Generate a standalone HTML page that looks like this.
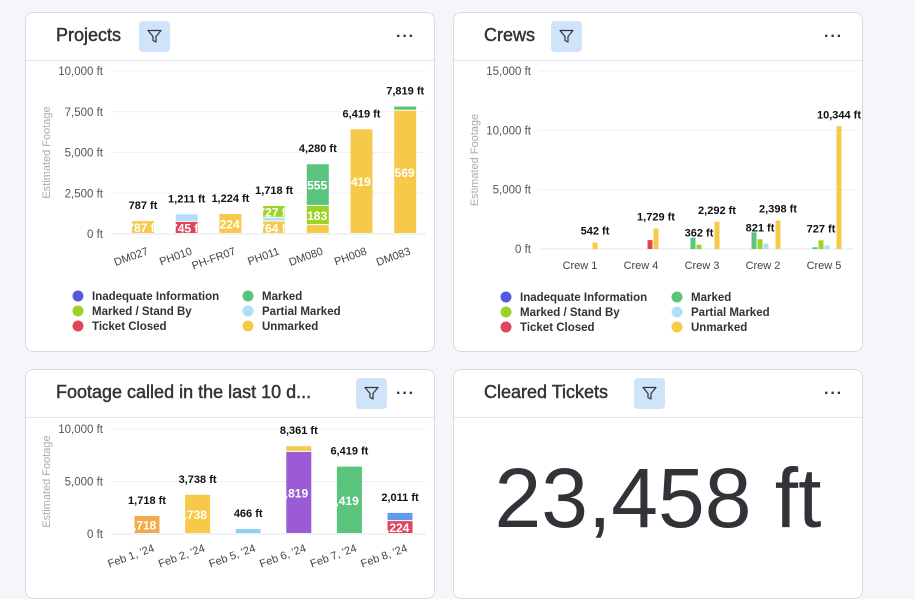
<!DOCTYPE html>
<html><head><meta charset="utf-8">
<style>
*{box-sizing:border-box;margin:0;padding:0}
body{width:915px;height:585px;background:#f5f6fa;font-family:"Liberation Sans",sans-serif;position:relative;overflow:hidden}
.card{position:absolute;background:#fff;border:1px solid #d9dbe3;border-radius:8px;overflow:hidden}
.hdr{position:absolute;left:0;right:0;top:0;height:48px;border-bottom:1px solid #e1e3ea}
.title{position:absolute;left:30px;top:12px;font-size:18px;color:#323338;font-weight:normal;-webkit-text-stroke:0.45px #323338;white-space:nowrap}
.filt{position:absolute;top:8px;width:31px;height:31px;background:#cfe3fb;border-radius:4px}
.filt svg{position:absolute;left:8px;top:8px}
.dots{position:absolute;top:15px;font-size:16px;color:#323338;font-weight:bold;letter-spacing:1px}
svg.ch{position:absolute;left:0;top:0}
.big{position:absolute;left:0;right:0;top:80px;text-align:center;font-size:84px;color:#323338}
</style></head><body>
<div class="card" style="left:25px;top:12px;width:410px;height:340px">
 <div class="hdr"><div class="title">Projects</div>
 <div class="filt" style="left:113px"><svg width="15" height="15" viewBox="0 0 15 15"><path d="M1 1.5h13l-5 6v5.5l-3-1.5v-4z" fill="none" stroke="#323338" stroke-width="1.2" stroke-linejoin="round"/></svg></div>
 <div class="dots" style="left:370px">···</div></div>
 <svg class="ch" id="c1" width="410" height="340"></svg>
</div>
<div class="card" style="left:453px;top:12px;width:410px;height:340px">
 <div class="hdr"><div class="title">Crews</div>
 <div class="filt" style="left:97px"><svg width="15" height="15" viewBox="0 0 15 15"><path d="M1 1.5h13l-5 6v5.5l-3-1.5v-4z" fill="none" stroke="#323338" stroke-width="1.2" stroke-linejoin="round"/></svg></div>
 <div class="dots" style="left:370px">···</div></div>
 <svg class="ch" id="c2" width="410" height="340"></svg>
</div>
<div class="card" style="left:25px;top:369px;width:410px;height:230px">
 <div class="hdr"><div class="title">Footage called in the last 10 d...</div>
 <div class="filt" style="left:330px"><svg width="15" height="15" viewBox="0 0 15 15"><path d="M1 1.5h13l-5 6v5.5l-3-1.5v-4z" fill="none" stroke="#323338" stroke-width="1.2" stroke-linejoin="round"/></svg></div>
 <div class="dots" style="left:370px">···</div></div>
 <svg class="ch" id="c3" width="410" height="230"></svg>
</div>
<div class="card" style="left:453px;top:369px;width:410px;height:230px">
 <div class="hdr"><div class="title">Cleared Tickets</div>
 <div class="filt" style="left:180px"><svg width="15" height="15" viewBox="0 0 15 15"><path d="M1 1.5h13l-5 6v5.5l-3-1.5v-4z" fill="none" stroke="#323338" stroke-width="1.2" stroke-linejoin="round"/></svg></div>
 <div class="dots" style="left:370px">···</div></div>
 <div class="big">23,458 ft</div>
</div>
<script>
const seriesNames=["Inadequate Information","Marked","Marked / Stand By","Partial Marked","Ticket Closed","Unmarked"];
const projCats=["DM027","PH010","PH-FR07","PH011","DM080","PH008","DM083"];
const projUnmarked=[787,0,1224,764,542,6419,7569];
const projTicketClosed=[0,745,0,0,0,0,0];
const projPartial=[0,466,0,227,0,0,0];
const projStandBy=[0,0,0,727,1183,0,0];
const projMarked=[0,0,0,0,2555,0,250];
const projTicks=[0,2500,5000,7500,10000];
const crewCats=["Crew 1","Crew 4","Crew 3","Crew 2","Crew 5"];
const crewInadequate=[0,0,0,0,0];
const crewMarked=[0,0,950,1400,150];
const crewStandBy=[0,0,362,821,727];
const crewPartial=[0,0,0,450,300];
const crewTicketClosed=[0,750,0,0,0];
const crewUnmarked=[542,1729,2292,2398,10344];
const crewTicks=[0,5000,10000,15000];
const dayCats=["Feb 1, '24","Feb 2, '24","Feb 5, '24","Feb 6, '24","Feb 7, '24","Feb 8, '24"];
const daySeriesA=[1718,3738,466,7819,6419,1224];
const daySeriesB=[0,0,0,542,0,787];
const dayColorsA=["#f2aa4c","#f7c948","#8ccff5","#9b5bd6","#5ac47d","#e2445c"];
const dayColorsB=["#f7c948","#f7c948","#f7c948","#f7c948","#f7c948","#5f9cf0"];
const dayTicks=[0,5000,10000];
const COL=["#5559df","#5ac47d","#9cd326","#aee0f7","#e2445c","#f7c948"];
const NS="http://www.w3.org/2000/svg";
function mk(p,t,a){const e=document.createElementNS(NS,t);for(const k in a)e.setAttribute(k,a[k]);p.appendChild(e);return e;}
function fmt(v){return v.toLocaleString("en-US")+" ft";}
function axes(svg,ticks,max,y0,y1,xl,xr,ylab){
 const ys=v=>y0-(v/max)*(y0-y1);
 ticks.forEach(t=>{const l=mk(svg,"line",{x1:xl,x2:xr,y1:ys(t),y2:ys(t),stroke:t?"#f0f1f4":"#e3e5ea"});
  
  
  const tx=mk(svg,"text",{x:xl-8,y:ys(t)+4,"text-anchor":"end","font-size":"11.5",fill:"#555"});tx.textContent=fmt(t);
  
  });
 const yl=mk(svg,"text",{x:0,y:0,transform:`translate(24,${(y0+y1)/2}) rotate(-90)`,"text-anchor":"middle","font-size":"11",fill:"#aaa"});yl.textContent=ylab;
 
 
 return ys;}
function xlabel(svg,x,y,t,rot){const e=mk(svg,"text",{x:0,y:0,transform:`translate(${x},${y}) rotate(${rot})`,"text-anchor":rot?"end":"middle","font-size":"11",fill:"#444"});e.textContent=t;
 
 }
function legend(svg,x1,x2,y){seriesNames.forEach((n,i)=>{const x=i%2?x2:x1,yy=y+Math.floor(i/2)*15;
 const g=mk(svg,"g",{});
 mk(g,"circle",{cx:x,cy:yy,r:5.5,fill:COL[i]});const t=mk(g,"text",{x:x+14,y:yy+4,"font-size":"11.5","font-weight":"bold",fill:"#323338"});t.textContent=n;});}
let cid=0;
function stackBar(svg,cx,w,ys,vals,cols,showInner){let acc=0;vals.forEach((v,i)=>{if(!v)return;const yt=ys(acc+v),yb=ys(acc);
 const r=mk(svg,"rect",{x:cx-w/2,y:yt,width:w,height:Math.max(yb-yt-1,1),fill:cols[i]});
 
 
 if(showInner&&yb-yt>9){const id="cl"+(cid++);const cp=mk(svg,"clipPath",{id:id});mk(cp,"rect",{x:cx-w/2,y:yt,width:w,height:yb-yt});
  const t=mk(svg,"text",{x:cx,y:(yt+yb)/2+4.5,"text-anchor":"middle","font-size":"12","font-weight":"bold",fill:"#fff","clip-path":`url(#${id})`});t.textContent=fmt(v);
  
  }
 acc+=v;});return acc;}
function total(svg,x,y,v){const t=mk(svg,"text",{x:x,y:y,"text-anchor":"middle","font-size":"11","font-weight":"bold",fill:"#111"});t.textContent=fmt(v);
 
 }
(function(){const s=document.getElementById("c1");const ys=axes(s,projTicks,10000,221,58,85,400,"Estimated Footage");
 projCats.forEach((c,i)=>{const cx=117+i*43.7;
  const tot=stackBar(s,cx,22,ys,[projUnmarked[i],projTicketClosed[i],projPartial[i],projStandBy[i],projMarked[i]],[COL[5],COL[4],COL[3],COL[2],COL[1]],true);
  total(s,cx,ys(tot)-12,tot);xlabel(s,cx+6,241,c,-20);});
 legend(s,52,222,283);})();
(function(){const s=document.getElementById("c2");const ys=axes(s,crewTicks,15000,236,58,85,400,"Estimated Footage");
 const sers=[crewInadequate,crewMarked,crewStandBy,crewPartial,crewTicketClosed,crewUnmarked];
 const show=[[5],[5],[2,5],[2,5],[2,5]];
 crewCats.forEach((c,i)=>{const cx=126+i*61;
  sers.forEach((sr,j)=>{const v=sr[i];if(!v)return;const x=cx-15+6*j;const r=mk(s,"rect",{x:x-2.5,y:ys(v),width:5,height:ys(0)-ys(v),fill:COL[j]});
   
   
   if(show[i].includes(j))total(s,x,ys(v)-8,v);});
  xlabel(s,cx,256,c,0);});
 legend(s,52,223,284);})();
(function(){const s=document.getElementById("c3");const ys=axes(s,dayTicks,10000,164,59,85,400,"Estimated Footage");
 dayCats.forEach((c,i)=>{const cx=121+i*50.6;
  const tot=stackBar(s,cx,25,ys,[daySeriesA[i],daySeriesB[i]],[dayColorsA[i],dayColorsB[i]],true);
  total(s,cx,ys(tot)-12,tot);xlabel(s,cx+8,181,c,-20);});})();
</script>
</body></html>
